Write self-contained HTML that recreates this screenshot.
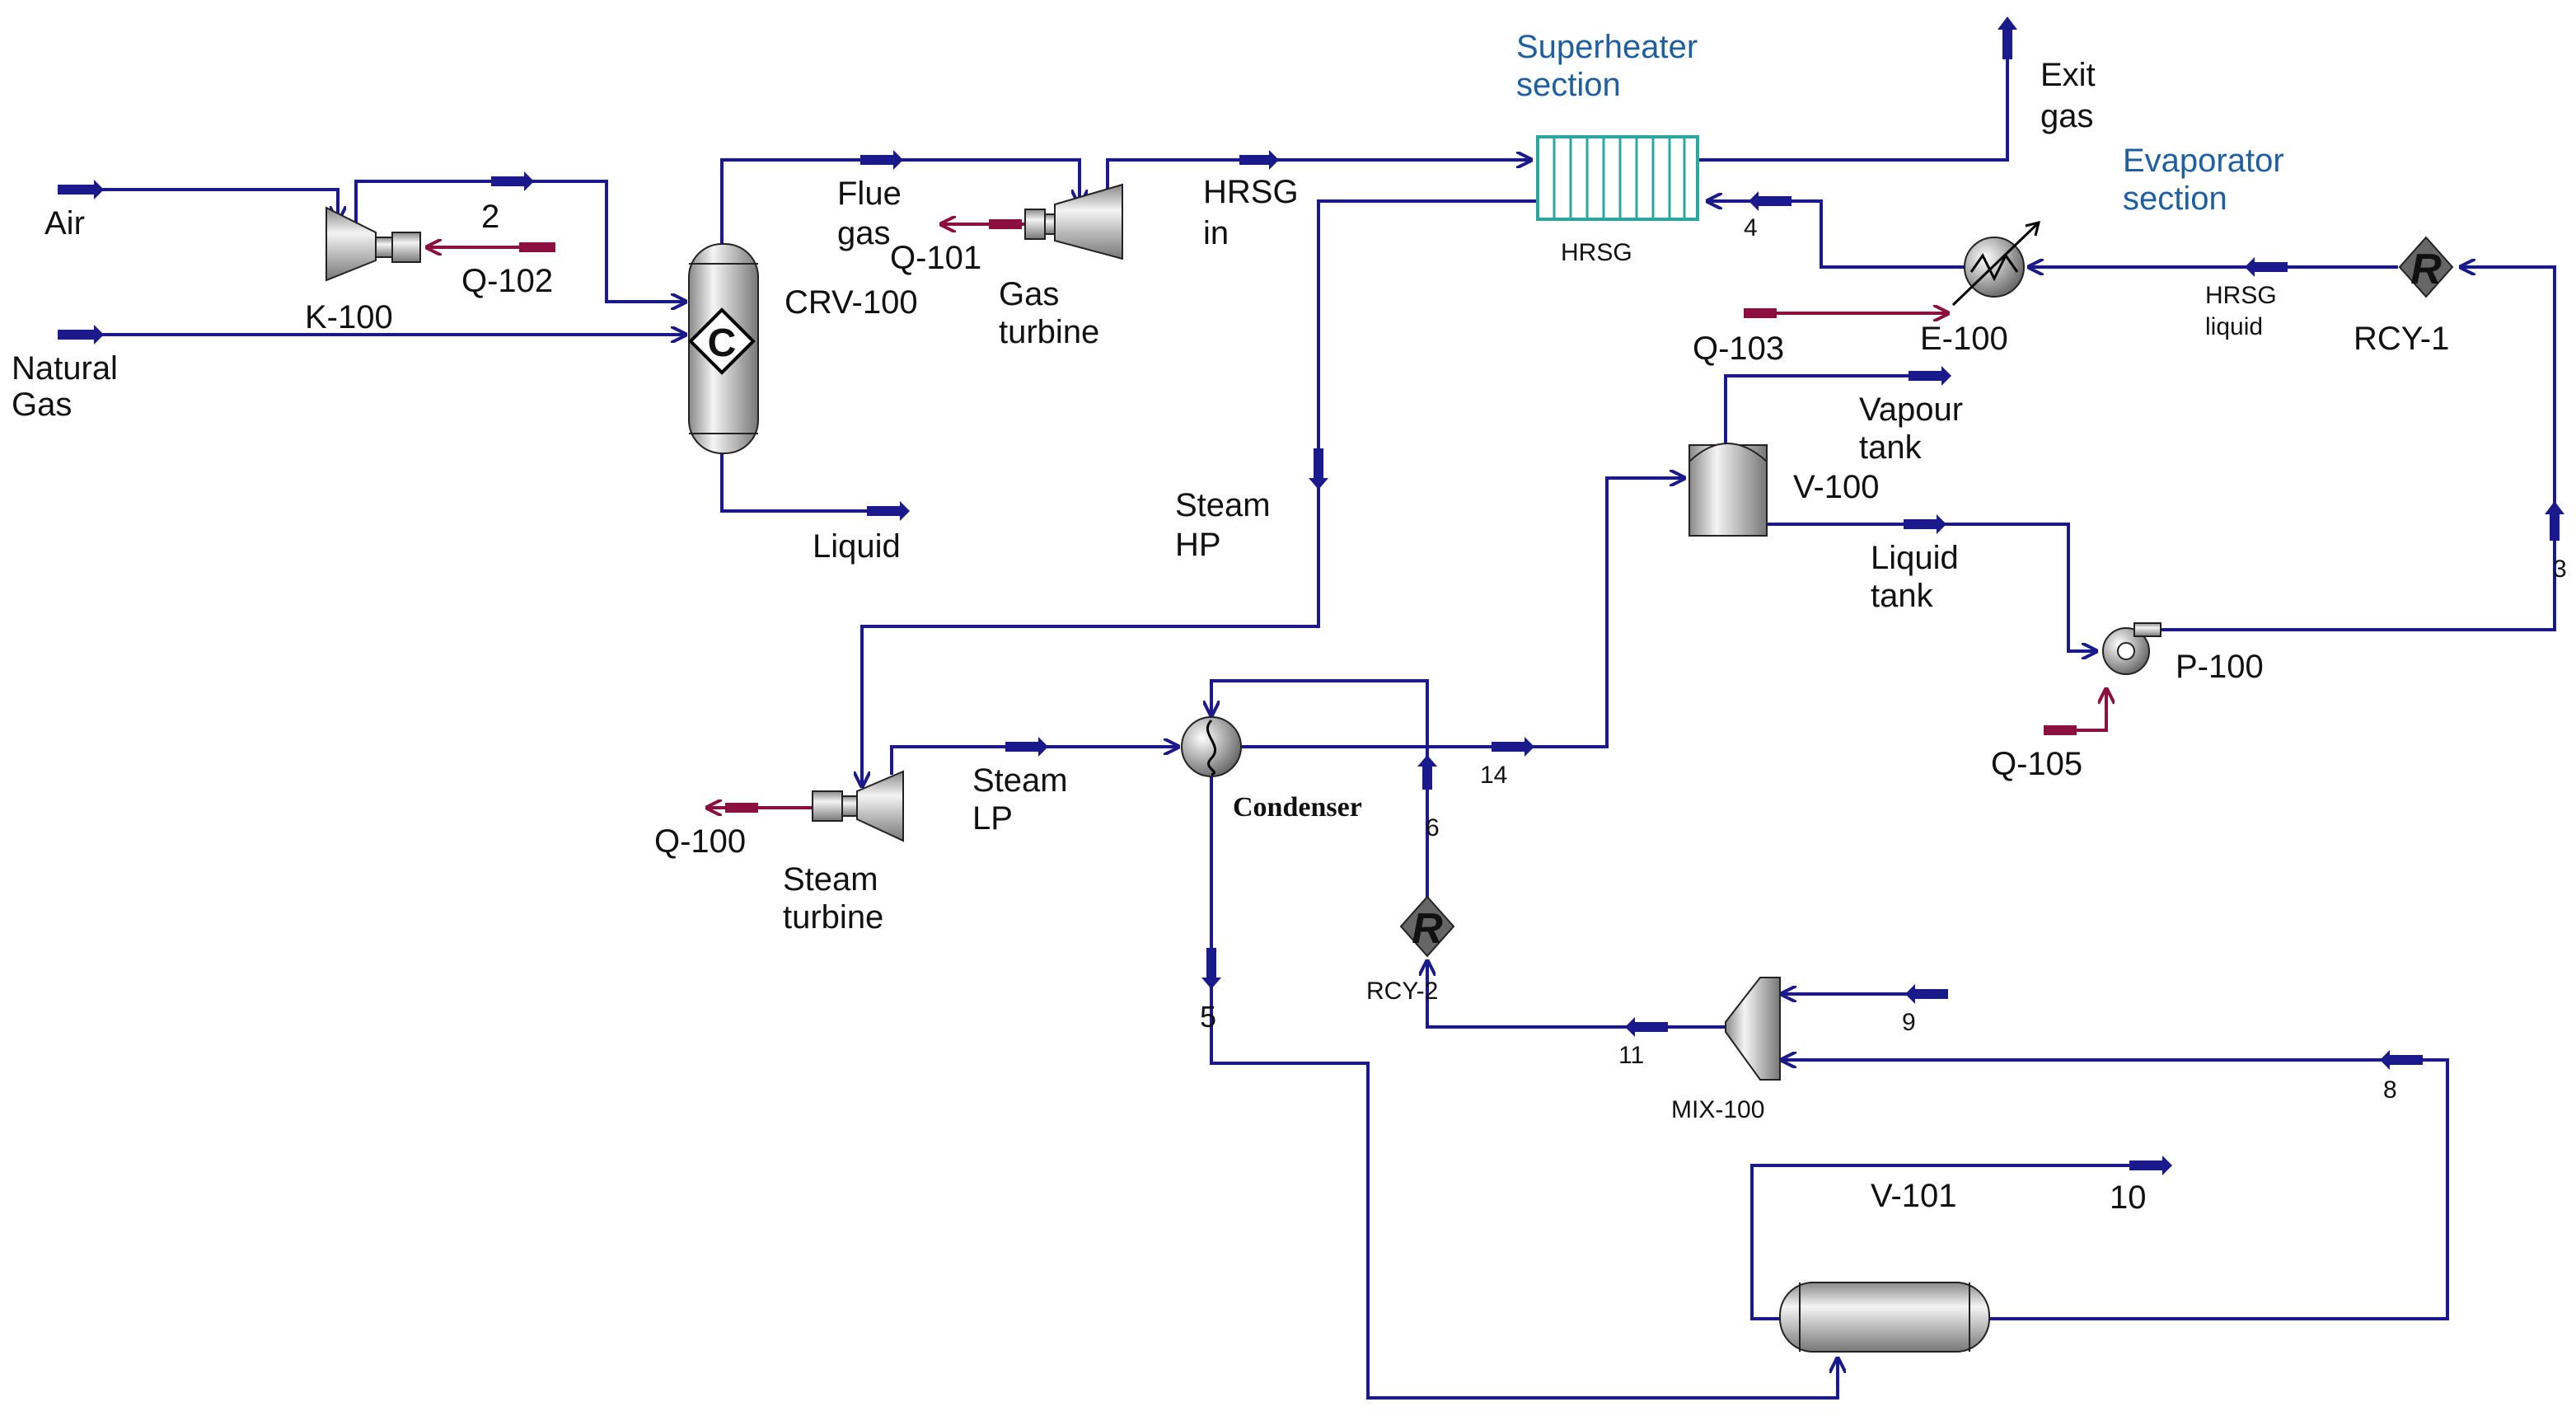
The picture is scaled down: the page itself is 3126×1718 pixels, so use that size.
<!DOCTYPE html>
<html><head><meta charset="utf-8"><style>
html,body{margin:0;padding:0;background:#fff;}
svg{display:block;}
text{font-family:"Liberation Sans",sans-serif;fill:#111;}
</style></head><body>
<svg width="3126" height="1718" viewBox="0 0 1563 859" xmlns="http://www.w3.org/2000/svg">
<defs>
<linearGradient id="gv" x1="0" x2="1" y1="0" y2="0"><stop offset="0" stop-color="#888"/><stop offset="0.35" stop-color="#f4f4f4"/><stop offset="1" stop-color="#777"/></linearGradient>
<linearGradient id="gh" x1="0" x2="0" y1="0" y2="1"><stop offset="0" stop-color="#888"/><stop offset="0.35" stop-color="#f4f4f4"/><stop offset="1" stop-color="#777"/></linearGradient>
<radialGradient id="gr" cx="0.35" cy="0.35" r="0.7"><stop offset="0" stop-color="#fff"/><stop offset="1" stop-color="#666"/></radialGradient>
<marker id="a" viewBox="0 0 10 10" refX="10" refY="5" markerWidth="5" markerHeight="5" orient="auto"><path d="M0,0 L10,5 L0,10" fill="none" stroke="#1a1a8c" stroke-width="2"/></marker>
<marker id="ar" viewBox="0 0 10 10" refX="10" refY="5" markerWidth="5" markerHeight="5" orient="auto"><path d="M0,0 L10,5 L0,10" fill="none" stroke="#8b1040" stroke-width="2"/></marker>
</defs>
<g fill="none" stroke="#1a1a8c" stroke-width="2">
<polyline points="35,115 205,115 205,135" marker-end="url(#a)"/>
<polyline points="216,135 216,110 368,110 368,183 417,183" marker-end="url(#a)"/>
<polyline points="35,203 417,203" marker-end="url(#a)"/>
<polyline points="438,148 438,97 655,97 655,125" marker-end="url(#a)"/>
<polyline points="438,275 438,310 548,310"/>
<polyline points="672,120 672,97 930,97" marker-end="url(#a)"/>
<polyline points="1030,97 1218,97 1218,12"/>
<polyline points="933,122 800,122 800,380 523,380 523,478" marker-end="url(#a)"/>
<polyline points="1192,162 1105,162 1105,122 1035,122" marker-end="url(#a)"/>
<polyline points="1455,162 1230,162" marker-end="url(#a)"/>
<polyline points="1310,382 1550,382 1550,162 1492,162" marker-end="url(#a)"/>
<polyline points="1047,270 1047,228 1180,228"/>
<polyline points="1072,318 1255,318 1255,395 1273,395" marker-end="url(#a)"/>
<polyline points="541,470 541,453 716,453" marker-end="url(#a)"/>
<polyline points="752,453 975,453 975,290 1023,290" marker-end="url(#a)"/>
<polyline points="866,545 866,413 735,413 735,435" marker-end="url(#a)"/>
<polyline points="735,470 735,645 830,645 830,848 1115,848 1115,823" marker-end="url(#a)"/>
<polyline points="1207,800 1485,800 1485,643 1080,643" marker-end="url(#a)"/>
<polyline points="1182,603 1080,603" marker-end="url(#a)"/>
<polyline points="1047,623 866,623 866,582" marker-end="url(#a)"/>
<polyline points="1080,800 1063,800 1063,707 1315,707"/>
</g>
<g fill="#1a1a8c">
<rect x="35" y="112" width="22" height="6"/><path d="M57,109 L63,115 L57,121Z"/>
<rect x="35" y="200" width="22" height="6"/><path d="M57,197 L63,203 L57,209Z"/>
<rect x="298" y="107" width="20" height="6"/><path d="M318,104 L324,110 L318,116Z"/>
<rect x="522" y="94" width="20" height="6"/><path d="M542,91 L548,97 L542,103Z"/>
<rect x="526" y="307" width="20" height="6"/><path d="M546,304 L552,310 L546,316Z"/>
<rect x="752" y="94" width="18" height="6"/><path d="M770,91 L776,97 L770,103Z"/>
<rect x="1215" y="18" width="6" height="18"/><path d="M1212,18 L1218,10 L1224,18Z"/>
<rect x="1067" y="119" width="20" height="6"/><path d="M1067,116 L1061,122 L1067,128Z"/>
<rect x="1368" y="159" width="20" height="6"/><path d="M1368,156 L1362,162 L1368,168Z"/>
<rect x="1547" y="312" width="6" height="16"/><path d="M1544,312 L1550,304 L1556,312Z"/>
<rect x="1158" y="225" width="20" height="6"/><path d="M1178,222 L1184,228 L1178,234Z"/>
<rect x="1155" y="315" width="20" height="6"/><path d="M1175,312 L1181,318 L1175,324Z"/>
<rect x="797" y="272" width="6" height="18"/><path d="M794,290 L800,297 L806,290Z"/>
<rect x="610" y="450" width="20" height="6"/><path d="M630,447 L636,453 L630,459Z"/>
<rect x="905" y="450" width="20" height="6"/><path d="M925,447 L931,453 L925,459Z"/>
<rect x="863" y="465" width="6" height="14"/><path d="M860,465 L866,458 L872,465Z"/>
<rect x="732" y="575" width="6" height="18"/><path d="M729,593 L735,600 L741,593Z"/>
<rect x="1450" y="640" width="20" height="6"/><path d="M1450,637 L1444,643 L1450,649Z"/>
<rect x="1162" y="600" width="20" height="6"/><path d="M1162,597 L1156,603 L1162,609Z"/>
<rect x="992" y="620" width="20" height="6"/><path d="M992,617 L986,623 L992,629Z"/>
<rect x="1292" y="704" width="20" height="6"/><path d="M1312,701 L1318,707 L1312,713Z"/>
</g>
<g fill="none" stroke="#8b1040" stroke-width="2">
<line x1="337" y1="150" x2="258" y2="150" marker-end="url(#ar)"/>
<line x1="623" y1="136" x2="570" y2="136" marker-end="url(#ar)"/>
<line x1="1058" y1="190" x2="1183" y2="190" marker-end="url(#ar)"/>
<polyline points="1240,443 1278,443 1278,417" marker-end="url(#ar)"/>
<line x1="493" y1="490" x2="428" y2="490" marker-end="url(#ar)"/>
</g>
<g fill="#8b1040">
<rect x="315" y="147" width="22" height="6"/><rect x="600" y="133" width="20" height="6"/>
<rect x="1058" y="187" width="20" height="6"/><rect x="1240" y="440" width="20" height="6"/>
<rect x="440" y="487" width="20" height="6"/>
</g>
<g stroke="#222" stroke-width="1">
<path d="M198,126 L228,141 L228,158 L198,170Z" fill="url(#gh)"/>
<rect x="228" y="144" width="10" height="12" fill="url(#gh)"/><rect x="238" y="141" width="17" height="18" fill="url(#gh)"/>
<rect x="418" y="148" width="42" height="127" rx="20" fill="url(#gv)"/>
<line x1="418" y1="160" x2="460" y2="160"/><line x1="418" y1="263" x2="460" y2="263"/>
<path d="M438,188 L457,207 L438,226 L419,207Z" fill="#fff" stroke="#000" stroke-width="2"/>
<path d="M681,112 L681,157 L640,146 L640,124Z" fill="url(#gh)"/>
<rect x="632" y="130" width="8" height="12" fill="url(#gh)"/><rect x="622" y="127" width="12" height="18" fill="url(#gh)"/>
<rect x="1025" y="270" width="47" height="55" fill="url(#gv)"/><path d="M1025,280 Q1048,258 1072,280" fill="url(#gv)"/>
<circle cx="1210" cy="162" r="18" fill="url(#gr)"/>
<circle cx="735" cy="453" r="18" fill="url(#gr)"/>
<circle cx="1290" cy="395" r="14" fill="url(#gr)"/><circle cx="1290" cy="395" r="5" fill="#fff"/>
<rect x="1295" y="378" width="16" height="8" fill="url(#gh)"/>
<path d="M548,468 L548,510 L520,497 L520,480Z" fill="url(#gh)"/>
<rect x="510" y="483" width="10" height="12" fill="url(#gh)"/><rect x="493" y="480" width="18" height="18" fill="url(#gh)"/>
<rect x="1080" y="778" width="127" height="42" rx="20" fill="url(#gh)"/>
<line x1="1092" y1="778" x2="1092" y2="820"/><line x1="1195" y1="778" x2="1195" y2="820"/>
<path d="M1068,593 L1080,593 L1080,655 L1068,655 L1047,626 L1047,620Z" fill="url(#gv)"/>
<path d="M1472,144 L1488,162 L1472,180 L1456,162Z" fill="#666"/>
<path d="M866,544 L882,562 L866,580 L850,562Z" fill="#666"/>
</g>
<g fill="none" stroke="#000" stroke-width="1.5">
<polyline points="1196,165 1203,155 1210,169 1217,155 1224,165"/>
<line x1="1185" y1="185" x2="1236" y2="136"/><path d="M1229,137 L1237,135 L1235,143"/>
<path d="M735,437 C727,445 743,452 735,460 C729,466 741,468 735,470"/>
</g>
<text x="438" y="216" font-size="24" font-weight="bold" text-anchor="middle" fill="#000">C</text>
<text x="1472" y="172" font-size="26" font-weight="bold" font-style="italic" text-anchor="middle" fill="#1a1a8c">R</text>
<text x="866" y="572" font-size="26" font-weight="bold" font-style="italic" text-anchor="middle" fill="#1a1a8c">R</text>
<rect x="933" y="83" width="97" height="50" fill="#fff" stroke="#2aa8a0" stroke-width="2"/>
<g stroke="#2aa8a0" stroke-width="1.5">
<line x1="943" y1="83" x2="943" y2="133"/><line x1="953" y1="83" x2="953" y2="133"/><line x1="963" y1="83" x2="963" y2="133"/><line x1="973" y1="83" x2="973" y2="133"/><line x1="983" y1="83" x2="983" y2="133"/><line x1="993" y1="83" x2="993" y2="133"/><line x1="1003" y1="83" x2="1003" y2="133"/><line x1="1013" y1="83" x2="1013" y2="133"/><line x1="1022" y1="83" x2="1022" y2="133"/>
</g>
<g font-size="20">
<text x="27" y="142">Air</text>
<text x="292" y="138">2</text>
<text x="280" y="177">Q-102</text>
<text x="185" y="199">K-100</text>
<text x="7" y="230">Natural</text><text x="7" y="252">Gas</text>
<text x="508" y="124">Flue</text><text x="508" y="148">gas</text>
<text x="540" y="163">Q-101</text>
<text x="476" y="190">CRV-100</text>
<text x="606" y="185">Gas</text><text x="606" y="208">turbine</text>
<text x="493" y="338">Liquid</text>
<text x="730" y="123">HRSG</text><text x="730" y="148">in</text>
<text x="1238" y="52">Exit</text><text x="1238" y="77">gas</text>
<text x="1027" y="218">Q-103</text>
<text x="1165" y="212">E-100</text>
<text x="1428" y="212">RCY-1</text>
<text x="1128" y="255">Vapour</text><text x="1128" y="278">tank</text>
<text x="1088" y="302">V-100</text>
<text x="1135" y="345">Liquid</text><text x="1135" y="368">tank</text>
<text x="713" y="313">Steam</text><text x="713" y="337">HP</text>
<text x="1320" y="411">P-100</text>
<text x="1208" y="470">Q-105</text>
<text x="590" y="480">Steam</text><text x="590" y="503">LP</text>
<text x="397" y="517">Q-100</text>
<text x="475" y="540">Steam</text><text x="475" y="563">turbine</text>
<text x="1135" y="732">V-101</text>
<text x="1280" y="733">10</text>
</g>
<g font-size="20">
<text x="920" y="35" style="fill:#1f5fa0">Superheater</text><text x="920" y="58" style="fill:#1f5fa0">section</text>
<text x="1288" y="104" style="fill:#1f5fa0">Evaporator</text><text x="1288" y="127" style="fill:#1f5fa0">section</text>
</g>
<g font-size="15">
<text x="947" y="158">HRSG</text>
<text x="1058" y="143">4</text>
<text x="1338" y="184">HRSG</text><text x="1338" y="203">liquid</text>
<text x="1549" y="350">3</text>
<text x="898" y="475">14</text>
<text x="865" y="507">6</text>
<text x="829" y="606">RCY-2</text>
<text x="728" y="623" font-size="18">5</text>
<text x="1154" y="625">9</text>
<text x="982" y="645">11</text>
<text x="1446" y="666">8</text>
<text x="1014" y="678">MIX-100</text>
</g>
<text x="748" y="495" font-size="17" font-weight="bold" style="font-family:'Liberation Serif',serif">Condenser</text>
</svg>
</body></html>
